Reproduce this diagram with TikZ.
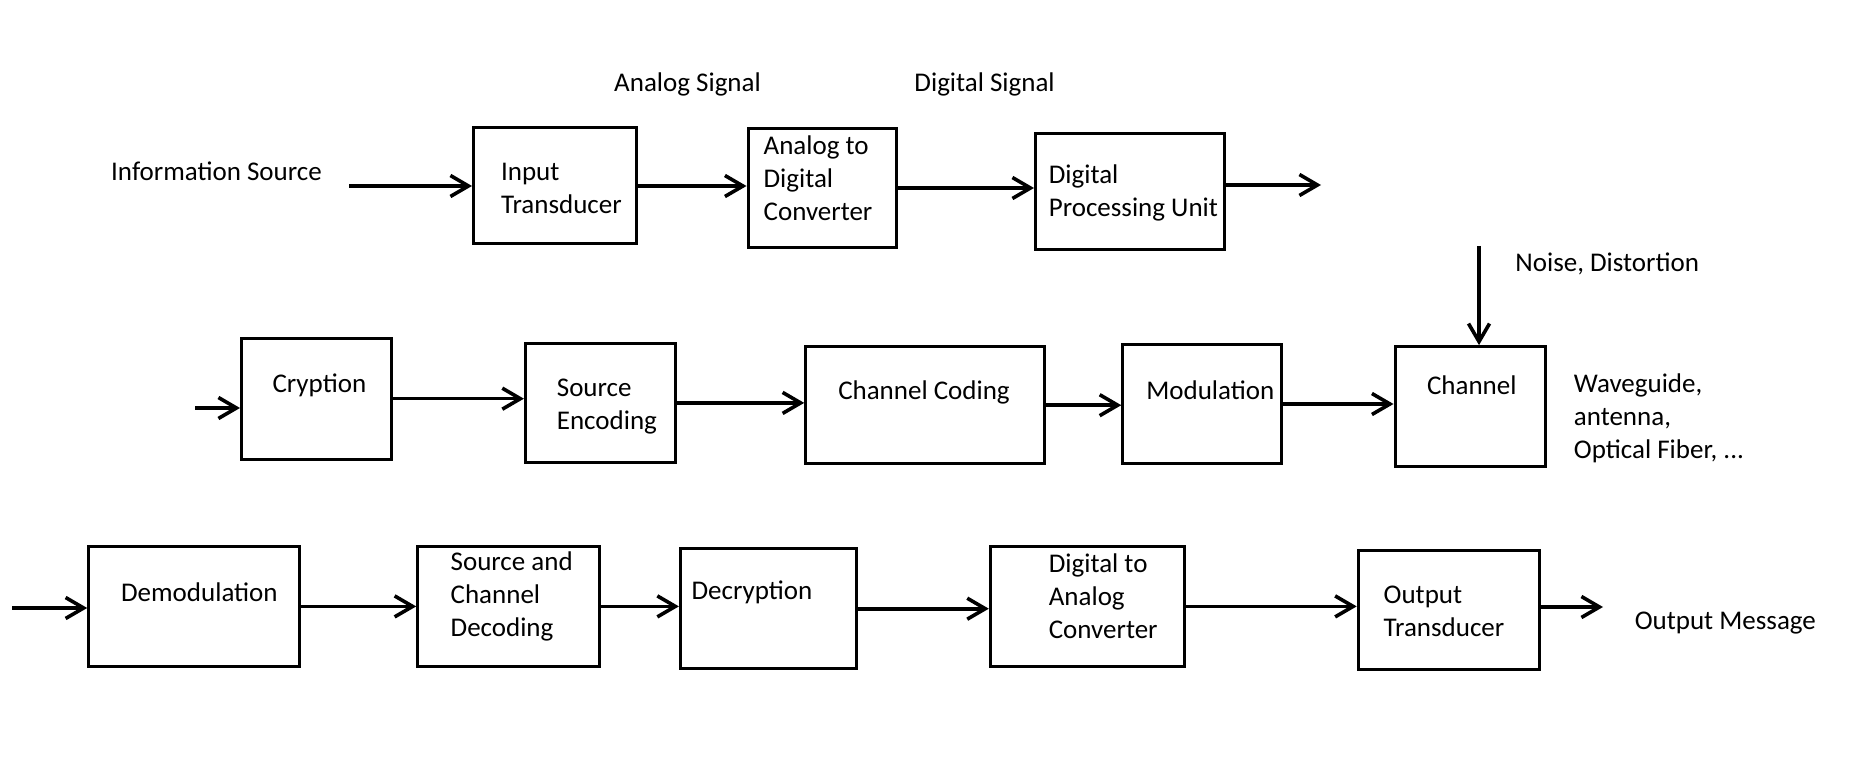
\documentclass[tikz,border=0pt]{standalone}
\usepackage{fontspec}
\setmainfont{Carlito}
\usepackage{tikz}
\usetikzlibrary{arrows.meta}

\begin{document}
\begin{tikzpicture}[x=0.5pt, y=-0.5pt,
        blk/.style = {draw, line width=1.5pt, inner sep=0pt, minimum height=59.75pt},
        txt/.style = {align=left, inner sep=0pt, font=\fontsize{13.5}{16.5}\selectfont},
        arr/.style = {line width=1.8pt, -{Straight Barb[length=9pt, width=10.5pt, line width=1.8pt]}}]
    \useasboundingbox (0,0) rectangle (1855,779);

    \node[blk, minimum width=81.5pt, minimum height=58pt] (it) at (555,186) {};
    \node[blk, minimum width=74pt] (adc) at (822,188) {};
    \node[blk, minimum width=94.5pt, minimum height=58pt] (dpu) at (1130,192) {};
    \node[blk, minimum width=75pt, minimum height=60.5pt] (cry) at (316.5,398.7) {};
    \node[blk, minimum width=75pt] (se) at (600.4,402.9) {};
    \node[blk, minimum width=119.5pt, minimum height=58.5pt] (cc) at (925.2,405.2) {};
    \node[blk, minimum width=79.25pt] (mod) at (1202,404) {};
    \node[blk, minimum width=75pt] (ch) at (1470,406.4) {};
    \node[blk, minimum width=105.3pt] (dem) at (194,606.4) {};
    \node[blk, minimum width=91pt] (scd) at (508.7,606.4) {};
    \node[blk, minimum width=88pt] (dec) at (768.4,608.7) {};
    \node[blk, minimum width=97pt] (dac) at (1087.3,606.4) {};
    \node[blk, minimum width=90.5pt] (ot) at (1448.7,609.9) {};

    \node[txt] (itT) at (561.4,188.7) {Input\\Transducer};
    \node[txt] (adcT) at (818,178.6) {Analog to\\Digital\\Converter};
    \node[txt] (dpuT) at (1133.4,192.8) {Digital\\Processing Unit};
    \node[txt] (cryT) at (319.4,385.7) {Cryption};
    \node[txt] (seT) at (606.9,406.4) {Source\\Encoding};
    \node[txt] (ccT) at (924,392.8) {Channel Coding};
    \node[txt] (modT) at (1210.3,390.4) {Modulation};
    \node[txt] (chT) at (1471.8,385.7) {Channel};
    \node[txt] (demT) at (199.4,592.7) {Demodulation};
    \node[txt] (scdT) at (511.7,596.3) {Source and\\Channel\\Decoding};
    \node[txt] (decT) at (751.9,592.7) {Decryption};
    \node[txt] (dacT) at (1103.2,596.3) {Digital to\\Analog\\Converter};
    \node[txt] (otT) at (1444,611.7) {Output\\Transducer};

    \node[txt] (srcT) at (216.5,171.5) {Information Source};
    \node[txt] (anaT) at (687.5,84) {Analog Signal};
    \node[txt] (digT) at (984.6,84) {Digital Signal};
    \node[txt] (nsT) at (1607.2,263.8) {Noise, Distortion};
    \node[txt, anchor=west] (wgT) at (1573.5,418.8) {Waveguide,\\antenna,\\Optical Fiber, ...};
    \node[txt] (omT) at (1725.3,623.5) {Output Message};

    \coordinate (inA) at (349,186);
    \coordinate (outA) at (1321,185);
    \coordinate (inB) at (195,408);
    \coordinate (nsTop) at (1479,246);
    \coordinate (inC) at (12,608);
    \coordinate (outC) at (1603,607);

    \draw[arr] (inA) -- (inA -| it.west);
    \draw[arr] (it.east) -- (it.east -| adc.west);
    \draw[arr] (adc.east) -- (adc.east -| dpu.west);
    \draw[arr] (dpu.east |- outA) -- (outA);
    \draw[arr] (nsTop) -- (nsTop |- ch.north);
    \draw[arr] (inB) -- (inB -| cry.west);
    \draw[arr] (cry.east) -- (cry.east -| se.west);
    \draw[arr] (se.east) -- (se.east -| cc.west);
    \draw[arr] (cc.east) -- (cc.east -| mod.west);
    \draw[arr] (mod.east) -- (mod.east -| ch.west);
    \draw[arr] (inC) -- (inC -| dem.west);
    \draw[arr] (dem.east) -- (dem.east -| scd.west);
    \draw[arr] (scd.east) -- (scd.east -| dec.west);
    \draw[arr] (dec.east) -- (dec.east -| dac.west);
    \draw[arr] (dac.east) -- (dac.east -| ot.west);
    \draw[arr] (ot.east |- outC) -- (outC);
\end{tikzpicture}
\end{document}
